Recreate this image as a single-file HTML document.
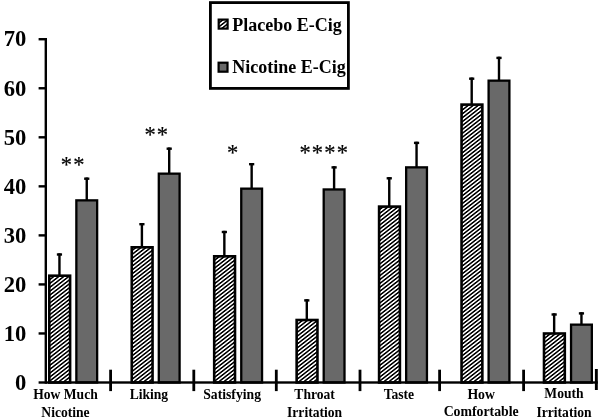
<!DOCTYPE html>
<html><head><meta charset="utf-8"><title>chart</title>
<style>html,body{margin:0;padding:0;background:#fff;}body{width:600px;height:420px;overflow:hidden;}svg{display:block;will-change:transform;}text{font-family:"Liberation Serif",serif;font-weight:bold;fill:#000;}</style>
</head><body>
<svg width="600" height="420" viewBox="0 0 600 420">
<defs><pattern id="h" patternUnits="userSpaceOnUse" width="20" height="3.075" patternTransform="translate(0.5,1.2) rotate(-37.95)"><rect x="0" y="0" width="20" height="1.538" fill="#000"/></pattern></defs>
<rect width="600" height="420" fill="#fff"/>
<rect x="48.00" y="274.40" width="23.40" height="108.10" fill="#fff"/>
<rect x="49.30" y="275.70" width="20.80" height="106.80" fill="url(#h)" stroke="#000" stroke-width="2.6"/>
<rect x="58.25" y="253.30" width="2.4" height="22.10" fill="#000"/>
<rect x="56.85" y="253.30" width="5.2" height="2.4" fill="#000"/>
<rect x="76.35" y="200.35" width="20.80" height="182.15" fill="#696969" stroke="#000" stroke-width="2.3"/>
<rect x="85.55" y="177.50" width="2.4" height="22.70" fill="#000"/>
<rect x="84.15" y="177.50" width="5.2" height="2.4" fill="#000"/>
<rect x="130.45" y="246.00" width="23.40" height="136.50" fill="#fff"/>
<rect x="131.75" y="247.30" width="20.80" height="135.20" fill="url(#h)" stroke="#000" stroke-width="2.6"/>
<rect x="140.70" y="223.00" width="2.4" height="24.00" fill="#000"/>
<rect x="139.30" y="223.00" width="5.2" height="2.4" fill="#000"/>
<rect x="158.80" y="173.65" width="20.80" height="208.85" fill="#696969" stroke="#000" stroke-width="2.3"/>
<rect x="168.00" y="147.50" width="2.4" height="26.00" fill="#000"/>
<rect x="166.60" y="147.50" width="5.2" height="2.4" fill="#000"/>
<rect x="212.90" y="255.00" width="23.40" height="127.50" fill="#fff"/>
<rect x="214.20" y="256.30" width="20.80" height="126.20" fill="url(#h)" stroke="#000" stroke-width="2.6"/>
<rect x="223.15" y="230.80" width="2.4" height="25.20" fill="#000"/>
<rect x="221.75" y="230.80" width="5.2" height="2.4" fill="#000"/>
<rect x="241.25" y="188.65" width="20.80" height="193.85" fill="#696969" stroke="#000" stroke-width="2.3"/>
<rect x="250.45" y="163.00" width="2.4" height="25.50" fill="#000"/>
<rect x="249.05" y="163.00" width="5.2" height="2.4" fill="#000"/>
<rect x="295.35" y="318.70" width="23.40" height="63.80" fill="#fff"/>
<rect x="296.65" y="320.00" width="20.80" height="62.50" fill="url(#h)" stroke="#000" stroke-width="2.6"/>
<rect x="305.60" y="299.20" width="2.4" height="20.50" fill="#000"/>
<rect x="304.20" y="299.20" width="5.2" height="2.4" fill="#000"/>
<rect x="323.70" y="189.45" width="20.80" height="193.05" fill="#696969" stroke="#000" stroke-width="2.3"/>
<rect x="332.90" y="166.20" width="2.4" height="23.10" fill="#000"/>
<rect x="331.50" y="166.20" width="5.2" height="2.4" fill="#000"/>
<rect x="377.80" y="205.30" width="23.40" height="177.20" fill="#fff"/>
<rect x="379.10" y="206.60" width="20.80" height="175.90" fill="url(#h)" stroke="#000" stroke-width="2.6"/>
<rect x="388.05" y="177.10" width="2.4" height="29.20" fill="#000"/>
<rect x="386.65" y="177.10" width="5.2" height="2.4" fill="#000"/>
<rect x="406.15" y="167.35" width="20.80" height="215.15" fill="#696969" stroke="#000" stroke-width="2.3"/>
<rect x="415.35" y="141.70" width="2.4" height="25.50" fill="#000"/>
<rect x="413.95" y="141.70" width="5.2" height="2.4" fill="#000"/>
<rect x="460.25" y="103.30" width="23.40" height="279.20" fill="#fff"/>
<rect x="461.55" y="104.60" width="20.80" height="277.90" fill="url(#h)" stroke="#000" stroke-width="2.6"/>
<rect x="470.50" y="77.50" width="2.4" height="26.80" fill="#000"/>
<rect x="469.10" y="77.50" width="5.2" height="2.4" fill="#000"/>
<rect x="488.60" y="80.65" width="20.80" height="301.85" fill="#696969" stroke="#000" stroke-width="2.3"/>
<rect x="497.80" y="56.70" width="2.4" height="23.80" fill="#000"/>
<rect x="496.40" y="56.70" width="5.2" height="2.4" fill="#000"/>
<rect x="542.70" y="332.20" width="23.40" height="50.30" fill="#fff"/>
<rect x="544.00" y="333.50" width="20.80" height="49.00" fill="url(#h)" stroke="#000" stroke-width="2.6"/>
<rect x="552.95" y="313.30" width="2.4" height="19.90" fill="#000"/>
<rect x="551.55" y="313.30" width="5.2" height="2.4" fill="#000"/>
<rect x="571.05" y="324.65" width="20.80" height="57.85" fill="#696969" stroke="#000" stroke-width="2.3"/>
<rect x="580.25" y="312.20" width="2.4" height="12.30" fill="#000"/>
<rect x="578.85" y="312.20" width="5.2" height="2.4" fill="#000"/>
<rect x="44.6" y="38" width="2.4" height="345.7" fill="#000"/>
<rect x="38.6" y="381.3" width="559.2" height="2.4" fill="#000"/>
<rect x="38.6" y="332.26" width="7" height="2.4" fill="#000"/>
<rect x="38.6" y="283.22" width="7" height="2.4" fill="#000"/>
<rect x="38.6" y="234.18" width="7" height="2.4" fill="#000"/>
<rect x="38.6" y="185.14" width="7" height="2.4" fill="#000"/>
<rect x="38.6" y="136.10" width="7" height="2.4" fill="#000"/>
<rect x="38.6" y="87.06" width="7" height="2.4" fill="#000"/>
<rect x="38.6" y="38.02" width="7" height="2.4" fill="#000"/>
<rect x="109.20" y="369.7" width="2.8" height="21.4" fill="#000"/>
<rect x="192.40" y="369.7" width="2.8" height="21.4" fill="#000"/>
<rect x="274.90" y="369.7" width="2.8" height="21.4" fill="#000"/>
<rect x="358.60" y="369.7" width="2.8" height="21.4" fill="#000"/>
<rect x="438.20" y="369.7" width="2.8" height="21.4" fill="#000"/>
<rect x="522.20" y="369.7" width="2.8" height="21.4" fill="#000"/>
<rect x="594.9" y="369" width="2.9" height="21" fill="#000"/>
<text x="26.3" y="389.75" font-size="22.6" text-anchor="end">0</text>
<text x="26.3" y="340.71" font-size="22.6" text-anchor="end">10</text>
<text x="26.3" y="291.67" font-size="22.6" text-anchor="end">20</text>
<text x="26.3" y="242.63" font-size="22.6" text-anchor="end">30</text>
<text x="26.3" y="193.59" font-size="22.6" text-anchor="end">40</text>
<text x="26.3" y="144.55" font-size="22.6" text-anchor="end">50</text>
<text x="26.3" y="95.51" font-size="22.6" text-anchor="end">60</text>
<text x="26.3" y="46.47" font-size="22.6" text-anchor="end">70</text>
<text x="65.5" y="398.9" font-size="13.60" text-anchor="middle">How Much</text>
<text x="65.5" y="417.1" font-size="13.60" text-anchor="middle">Nicotine</text>
<text x="148.9" y="398.9" font-size="13.60" text-anchor="middle">Liking</text>
<text x="232.1" y="398.9" font-size="13.70" text-anchor="middle">Satisfying</text>
<text x="314.6" y="398.9" font-size="13.60" text-anchor="middle">Throat</text>
<text x="314.6" y="417.1" font-size="13.60" text-anchor="middle">Irritation</text>
<text x="398.9" y="398.9" font-size="13.60" text-anchor="middle">Taste</text>
<text x="481.2" y="398.9" font-size="13.80" text-anchor="middle">How</text>
<text x="481.2" y="415.9" font-size="13.80" text-anchor="middle">Comfortable</text>
<text x="564.0" y="398.3" font-size="13.60" text-anchor="middle">Mouth</text>
<text x="564.0" y="416.9" font-size="13.60" text-anchor="middle">Irritation</text>
<text x="66.30" y="172.00" font-size="22.5" style="font-weight:normal" stroke="#000" stroke-width="0.2" text-anchor="middle">*</text>
<text x="78.75" y="172.00" font-size="22.5" style="font-weight:normal" stroke="#000" stroke-width="0.2" text-anchor="middle">*</text>
<text x="150.00" y="142.30" font-size="22.5" style="font-weight:normal" stroke="#000" stroke-width="0.2" text-anchor="middle">*</text>
<text x="162.45" y="142.30" font-size="22.5" style="font-weight:normal" stroke="#000" stroke-width="0.2" text-anchor="middle">*</text>
<text x="232.60" y="159.90" font-size="22.5" style="font-weight:normal" stroke="#000" stroke-width="0.2" text-anchor="middle">*</text>
<text x="305.00" y="160.00" font-size="22.5" style="font-weight:normal" stroke="#000" stroke-width="0.2" text-anchor="middle">*</text>
<text x="317.45" y="160.00" font-size="22.5" style="font-weight:normal" stroke="#000" stroke-width="0.2" text-anchor="middle">*</text>
<text x="329.90" y="160.00" font-size="22.5" style="font-weight:normal" stroke="#000" stroke-width="0.2" text-anchor="middle">*</text>
<text x="342.35" y="160.00" font-size="22.5" style="font-weight:normal" stroke="#000" stroke-width="0.2" text-anchor="middle">*</text>
<rect x="210.4" y="2.6" width="138" height="85.8" fill="#fff" stroke="#000" stroke-width="2.8"/>
<rect x="218.7" y="19.6" width="8.9" height="9.0" fill="url(#h)" stroke="#000" stroke-width="2.2"/>
<rect x="218.6" y="62.7" width="8.9" height="9.0" fill="#696969" stroke="#000" stroke-width="2.2"/>
<text x="232.3" y="30.5" font-size="18">Placebo E-Cig</text>
<text x="232.3" y="73" font-size="18">Nicotine E-Cig</text>
</svg></body></html>
